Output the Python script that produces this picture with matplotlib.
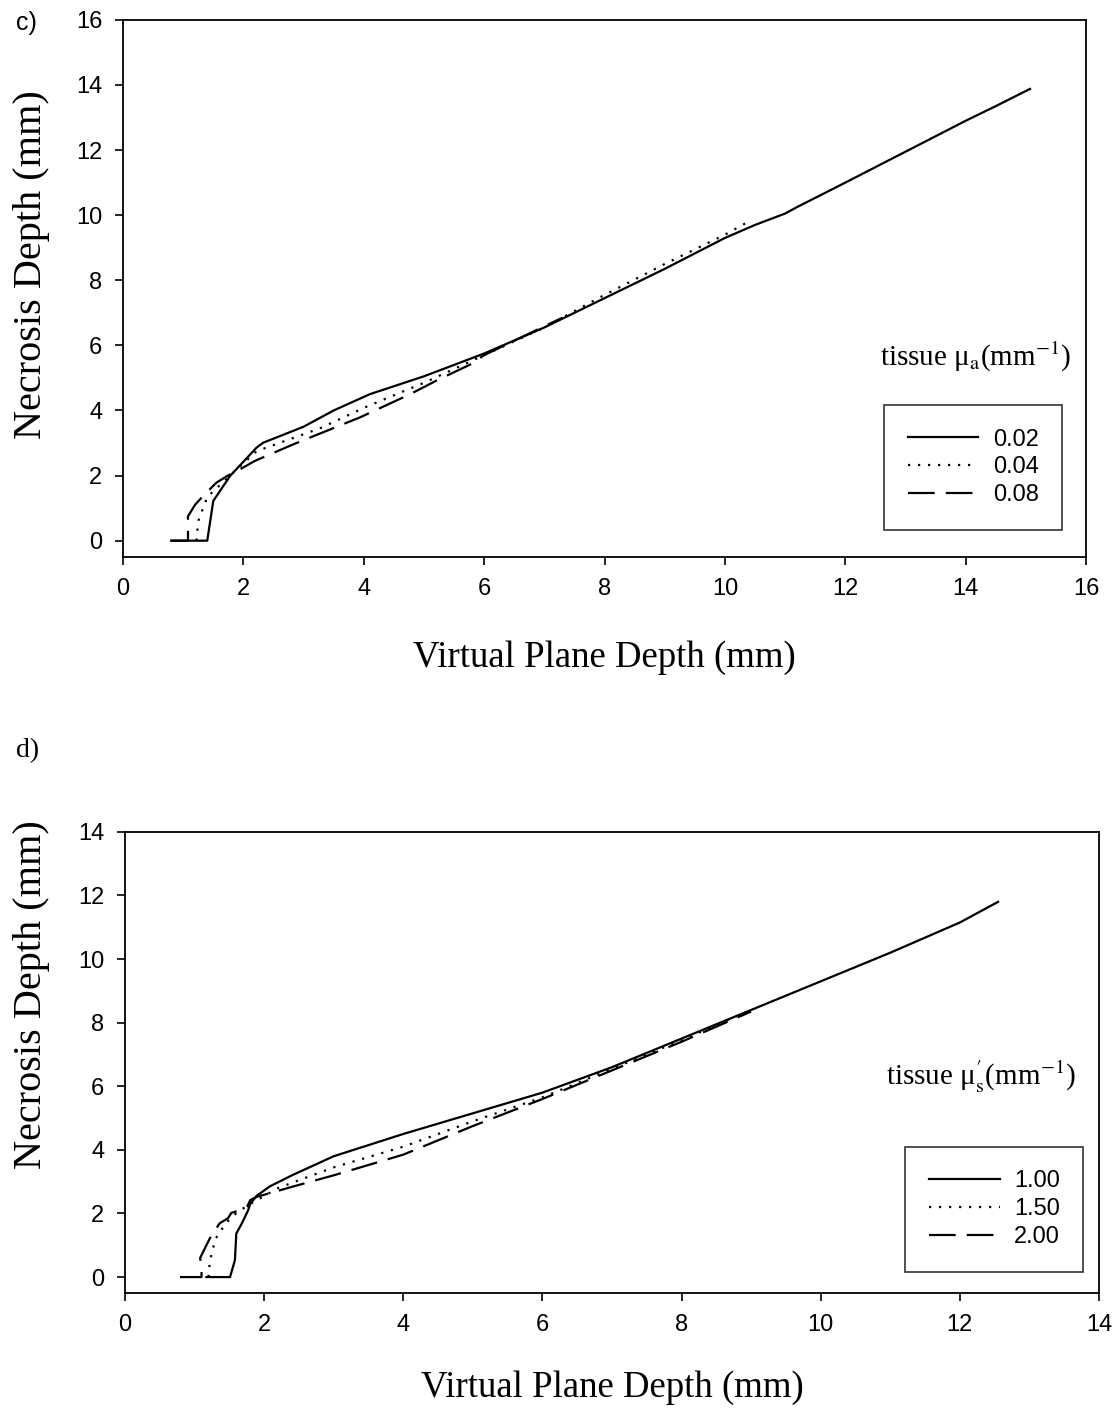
import matplotlib
matplotlib.use("Agg")
import matplotlib.pyplot as plt

# panel c) tissue mu_a
c_x_002 = [0.80, 1.40, 1.50, 1.78, 2.22, 2.33, 3.0, 3.5, 4.1, 5.0, 6.0, 7.0, 8.0, 9.0, 10.0, 10.5, 11.0, 11.2, 12.0, 13.0, 14.0, 14.5, 15.07]
c_y_002 = [0.00, 0.00, 1.22, 1.99, 2.86, 3.01, 3.50, 4.00, 4.50, 5.05, 5.75, 6.55, 7.45, 8.35, 9.30, 9.70, 10.05, 10.25, 11.00, 11.95, 12.90, 13.35, 13.88]
c_x_004 = [1.22, 1.25, 1.40, 1.78, 2.22, 3.27, 4.05, 5.0, 6.0, 7.0, 8.0, 8.37, 9.0, 10.0, 10.39]
c_y_004 = [0.00, 0.60, 1.34, 2.00, 2.75, 3.45, 4.12, 4.85, 5.70, 6.55, 7.55, 7.90, 8.50, 9.40, 9.80]
c_x_008 = [0.80, 1.08, 1.08, 1.20, 1.33, 1.55, 1.78, 2.00, 2.19, 2.83, 3.94, 4.77, 5.21, 5.79, 6.00, 7.30]
c_y_008 = [0.00, 0.00, 0.75, 1.11, 1.37, 1.78, 2.04, 2.25, 2.45, 2.96, 3.79, 4.50, 4.92, 5.43, 5.70, 6.85]

# panel d) tissue mu_s'
d_x_100 = [1.17, 1.51, 1.58, 1.60, 1.68, 1.77, 1.80, 1.89, 2.08, 2.40, 3.0, 4.0, 5.0, 6.0, 7.0, 8.0, 9.0, 10.0, 11.0, 12.0, 12.55]
d_y_100 = [0.00, 0.00, 0.53, 1.37, 1.69, 2.10, 2.30, 2.55, 2.85, 3.20, 3.80, 4.50, 5.15, 5.80, 6.60, 7.50, 8.40, 9.30, 10.20, 11.15, 11.80]
d_x_150 = [1.20, 1.22, 1.30, 1.45, 1.62, 1.80, 2.20, 3.0, 4.0, 5.0, 6.0, 7.0, 8.0, 9.0]
d_y_150 = [0.00, 0.50, 1.20, 1.70, 2.05, 2.30, 2.80, 3.45, 4.10, 4.90, 5.65, 6.55, 7.45, 8.40]
d_x_200 = [0.79, 1.10, 1.10, 1.08, 1.17, 1.22, 1.36, 1.48, 1.53, 1.65, 1.76, 1.80, 1.89, 2.42, 3.0, 4.0, 5.0, 6.0, 7.0, 8.0, 9.0]
d_y_200 = [0.00, 0.00, 0.30, 0.60, 1.00, 1.22, 1.69, 1.85, 2.02, 2.10, 2.23, 2.42, 2.52, 2.85, 3.20, 3.85, 4.75, 5.60, 6.50, 7.40, 8.35]

c_labels = ["0.02", "0.04", "0.08"]
d_labels = ["1.00", "1.50", "2.00"]

plt.rcParams["mathtext.fontset"] = "stix"
serif = "Liberation Serif"
sans = "Liberation Sans"

styles = [dict(ls="-"), dict(ls=(0, (1, 3.5))), dict(ls=(0, (12, 5)))]

fig = plt.figure(figsize=(11.14, 14.10), dpi=100)
ax1 = fig.add_axes([0.1104, 0.605, 0.8645, 0.3809])
ax2 = fig.add_axes([0.1122, 0.083, 0.8743, 0.327])


def style_axes(ax, xmax, ymax, xl_y, yl_x, yl_y):
    ax.set_xlim(0, xmax)
    ax.set_ylim(-0.5, ymax)
    ax.set_xticks(range(0, xmax + 1, 2))
    ax.set_yticks(range(0, ymax + 1, 2))
    ax.tick_params(direction="out", length=6, width=1.2, labelsize=17, pad=9,
                   top=False, right=False)
    for lab in ax.get_xticklabels() + ax.get_yticklabels():
        lab.set_fontfamily(sans)
    for s in ax.spines.values():
        s.set_linewidth(1.3)
    ax.set_xlabel("Virtual Plane Depth (mm)", family=serif, fontsize=26.5)
    ax.set_ylabel("Necrosis Depth (mm)", family=serif, fontsize=29)
    ax.xaxis.set_label_coords(0.5, xl_y)
    ax.yaxis.set_label_coords(yl_x, yl_y)


series_c = [(c_x_002, c_y_002), (c_x_004, c_y_004), (c_x_008, c_y_008)]
for (x, y), st, lab in zip(series_c, styles, c_labels):
    ax1.plot(x, y, color="black", lw=1.6, label=lab, **st)
style_axes(ax1, 16, 16, -0.155, -0.076, 0.544)
leg = ax1.legend(loc="upper left", bbox_to_anchor=(0.778, 0.305), frameon=True, fancybox=False,
                 edgecolor="black", prop={"family": sans, "size": 17}, handlelength=3.0,
                 borderpad=1.0, labelspacing=0.25, handletextpad=0.6)
leg.get_frame().set_linewidth(1.2)
ax1.text(0.985, 0.372, r"tissue μ$_{\rm a}$(mm$^{-1}$)", transform=ax1.transAxes,
         ha="right", va="center", family=serif, fontsize=21)

series_d = [(d_x_100, d_y_100), (d_x_150, d_y_150), (d_x_200, d_y_200)]
for (x, y), st, lab in zip(series_d, styles, d_labels):
    ax2.plot(x, y, color="black", lw=1.6, label=lab, **st)
style_axes(ax2, 14, 14, -0.167, -0.077, 0.646)
leg2 = ax2.legend(loc="upper left", bbox_to_anchor=(0.789, 0.343), frameon=True, fancybox=False,
                  edgecolor="black", prop={"family": sans, "size": 17}, handlelength=3.0,
                  borderpad=1.0, labelspacing=0.25, handletextpad=0.6)
leg2.get_frame().set_linewidth(1.2)
ax2.text(0.977, 0.469, r"tissue μ$^{\prime}_{\rm s}$(mm$^{-1}$)", transform=ax2.transAxes,
         ha="right", va="center", family=serif, fontsize=21)

fig.text(0.014, 0.984, "c)", family=sans, fontsize=18, va="center")
fig.text(0.014, 0.468, "d)", family=serif, fontsize=20, va="center")

fig.savefig("out.png", dpi=100)
